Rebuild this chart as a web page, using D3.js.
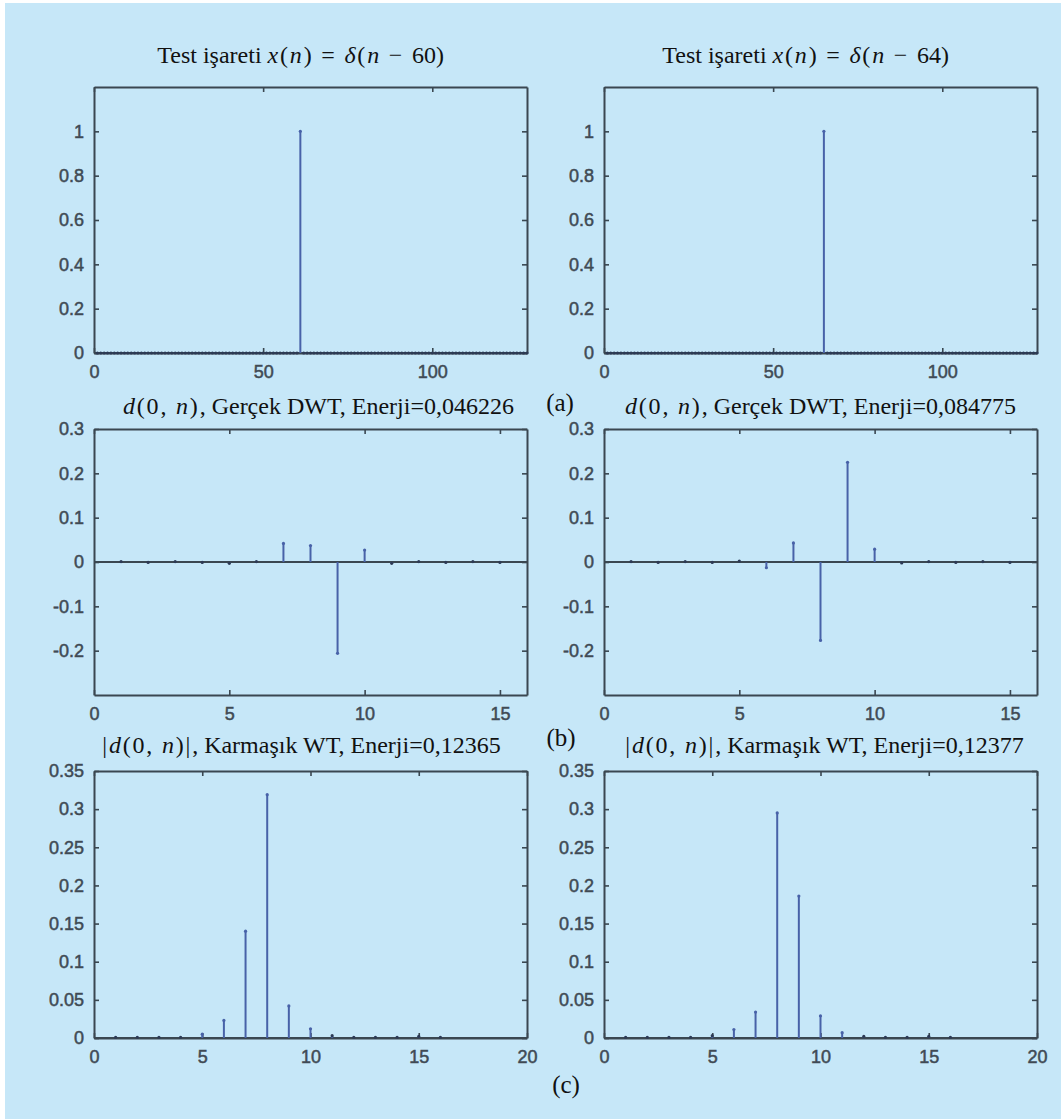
<!DOCTYPE html>
<html>
<head>
<meta charset="utf-8">
<script src="https://cdn.jsdelivr.net/npm/d3@7/dist/d3.min.js"></script>
<style>
  html, body { margin: 0; padding: 0; background: #ffffff; }
  svg { display: block; }
</style>
</head>
<body>
<svg id="fig" width="1061" height="1119"></svg>
<script>
// ---- data -------------------------------------------------------------
// Test signals: unit impulses on 128 samples (MATLAB 1-based indices)
const testSamples = d3.range(1, 129);
const impulseAtLeft = 61;
const impulseAtRight = 65;
const impulseHeight = 1;

// Finest-scale coefficients d(0,n) of the real DWT, n = 1..15
const dwtIndex = d3.range(1, 16);
const dwtLeft  = [0.001, -0.001, 0.001, -0.001, -0.003, 0.001, 0.042, 0.037, -0.206, 0.027, -0.003, 0.001, -0.001, 0.001, -0.001];
const dwtRight = [0.001, -0.001, 0.001, -0.001, 0.002, -0.013, 0.043, -0.177, 0.225, 0.029, -0.002, 0.001, -0.001, 0.001, -0.001];

// Magnitudes |d(0,n)| of the complex wavelet transform, n = 1..16
const cwtIndex = d3.range(1, 17);
const cwtLeft  = [0.001, 0.001, 0.001, 0.001, 0.005, 0.023, 0.140, 0.319, 0.042, 0.012, 0.003, 0.001, 0.001, 0.001, 0.002, 0.001];
const cwtRight = [0.001, 0.001, 0.001, 0.001, 0.003, 0.011, 0.034, 0.295, 0.186, 0.029, 0.007, 0.002, 0.001, 0.001, 0.002, 0.001];

// Titles as runs: "t" = plain text, "m" = upright math, "i" = italic math, "d" = math digits
const titleTestLeft  = [["Test işareti ", "t"], ["x", "i"], ["(", "m"], ["n", "i"], [") = ", "m"], ["δ", "i"], ["(", "m"], ["n", "i"], [" − ", "m"], ["60", "d"], [")", "m"]];
const titleTestRight = [["Test işareti ", "t"], ["x", "i"], ["(", "m"], ["n", "i"], [") = ", "m"], ["δ", "i"], ["(", "m"], ["n", "i"], [" − ", "m"], ["64", "d"], [")", "m"]];
const titleDwtLeft   = [["d", "i"], ["(0, ", "m"], ["n", "i"], [")", "m"], [", Gerçek DWT, Enerji=0,046226", "t"]];
const titleDwtRight  = [["d", "i"], ["(0, ", "m"], ["n", "i"], [")", "m"], [", Gerçek DWT, Enerji=0,084775", "t"]];
const titleCwtLeft   = [["|", "m"], ["d", "i"], ["(0, ", "m"], ["n", "i"], [")|", "m"], [", Karmaşık WT, Enerji=0,12365", "t"]];
const titleCwtRight  = [["|", "m"], ["d", "i"], ["(0, ", "m"], ["n", "i"], [")|", "m"], [", Karmaşık WT, Enerji=0,12377", "t"]];
const panelLabels = ["(a)", "(b)", "(c)"];

// Axis limits and tick values
const testXDomain = [0, 128], testYDomain = [0, 1.2];
const testXTicks = [0, 50, 100], testYTicks = [0, 0.2, 0.4, 0.6, 0.8, 1];
const dwtXDomain = [0, 16], dwtYDomain = [-0.3, 0.3];
const dwtXTicks = [0, 5, 10, 15], dwtYTicks = [-0.2, -0.1, 0, 0.1, 0.2, 0.3];
const cwtXDomain = [0, 20], cwtYDomain = [0, 0.35];
const cwtXTicks = [0, 5, 10, 15, 20], cwtYTicks = [0, 0.05, 0.1, 0.15, 0.2, 0.25, 0.3, 0.35];

// ---- layout & style ----------------------------------------------------
const BG = "#c6e7f8";
const FRAME = "#3a4751";
const TICKTXT = "#404a54";
const STEM = "#4862a8";
const cols = [{ x0: 94, x1: 527 }, { x0: 604, x1: 1037 }];
const rows = [{ y0: 87, y1: 353, titleY: 63 }, { y0: 429, y1: 695, titleY: 414 }, { y0: 771, y1: 1038, titleY: 753 }];

const svg = d3.select("#fig");
svg.append("rect").attr("x", 5).attr("y", 3).attr("width", 1061).attr("height", 1119).attr("fill", BG);

function drawPanel(cfg) {
  const c = cols[cfg.col], r = rows[cfg.row];
  const x = d3.scaleLinear().domain(cfg.xDomain).range([c.x0, c.x1]);
  const y = d3.scaleLinear().domain(cfg.yDomain).range([r.y1, r.y0]);
  const g = svg.append("g");

  const fmt = d => String(+d.toFixed(2));
  const styleAxis = sel => {
    sel.select(".domain").attr("stroke", FRAME).attr("stroke-width", 2);
    sel.selectAll(".tick line").attr("stroke", FRAME).attr("stroke-width", 1.6);
    sel.selectAll(".tick text")
      .attr("fill", TICKTXT)
      .attr("stroke", TICKTXT).attr("stroke-width", 0.5)
      .style("font-family", "'Liberation Sans', Arial, sans-serif")
      .style("font-size", "18px");
  };

  g.append("g").attr("transform", `translate(0,${r.y1})`)
    .call(d3.axisBottom(x).tickValues(cfg.xTicks).tickFormat(fmt).tickSizeInner(-5).tickSizeOuter(0).tickPadding(12))
    .call(styleAxis);
  g.append("g").attr("transform", `translate(0,${r.y0})`)
    .call(d3.axisTop(x).tickValues(cfg.xTicks).tickFormat("").tickSizeInner(-5).tickSizeOuter(0))
    .call(styleAxis);
  g.append("g").attr("transform", `translate(${c.x0},0)`)
    .call(d3.axisLeft(y).tickValues(cfg.yTicks).tickFormat(fmt).tickSizeInner(-5).tickSizeOuter(0).tickPadding(10))
    .call(styleAxis);
  g.append("g").attr("transform", `translate(${c.x1},0)`)
    .call(d3.axisRight(y).tickValues(cfg.yTicks).tickFormat("").tickSizeInner(-5).tickSizeOuter(0))
    .call(styleAxis);

  // stem baseline
  g.append("line")
    .attr("x1", c.x0).attr("x2", c.x1)
    .attr("y1", y(0)).attr("y2", y(0))
    .attr("stroke", FRAME).attr("stroke-width", 2);

  const pts = cfg.n.map((n, i) => ({ n, v: cfg.values[i] }));
  g.append("g").selectAll("line").data(pts).join("line")
    .attr("x1", d => x(d.n)).attr("x2", d => x(d.n))
    .attr("y1", y(0)).attr("y2", d => y(d.v))
    .attr("stroke", STEM).attr("stroke-width", 2);
  g.append("g").selectAll("circle").data(pts).join("circle")
    .attr("cx", d => x(d.n)).attr("cy", d => y(d.v))
    .attr("r", 1.6)
    .attr("fill", d => Math.abs(d.v) < 0.005 ? "#2c3a55" : STEM);

  // title
  const t = svg.append("text")
    .attr("x", (c.x0 + c.x1) / 2 + cfg.titleDx).attr("y", r.titleY)
    .attr("text-anchor", "middle")
    .attr("fill", "#111")
    .style("font-family", "'Liberation Serif', 'Times New Roman', serif")
    .style("font-size", "24px");
  cfg.title.forEach(([s, kind]) => {
    t.append("tspan").text(s)
      .style("font-style", kind === "i" ? "italic" : "normal")
      .style("letter-spacing", (kind === "m" || kind === "i") ? "1.8px" : "0px");
  });
}

const testLeft = testSamples.map(n => (n === impulseAtLeft ? impulseHeight : 0));
const testRight = testSamples.map(n => (n === impulseAtRight ? impulseHeight : 0));

drawPanel({ row: 0, col: 0, xDomain: testXDomain, yDomain: testYDomain, xTicks: testXTicks, yTicks: testYTicks, n: testSamples, values: testLeft, title: titleTestLeft, titleDx: -9 });
drawPanel({ row: 0, col: 1, xDomain: testXDomain, yDomain: testYDomain, xTicks: testXTicks, yTicks: testYTicks, n: testSamples, values: testRight, title: titleTestRight, titleDx: -14 });
drawPanel({ row: 1, col: 0, xDomain: dwtXDomain, yDomain: dwtYDomain, xTicks: dwtXTicks, yTicks: dwtYTicks, n: dwtIndex, values: dwtLeft, title: titleDwtLeft, titleDx: 8 });
drawPanel({ row: 1, col: 1, xDomain: dwtXDomain, yDomain: dwtYDomain, xTicks: dwtXTicks, yTicks: dwtYTicks, n: dwtIndex, values: dwtRight, title: titleDwtRight, titleDx: 0 });
drawPanel({ row: 2, col: 0, xDomain: cwtXDomain, yDomain: cwtYDomain, xTicks: cwtXTicks, yTicks: cwtYTicks, n: cwtIndex, values: cwtLeft, title: titleCwtLeft, titleDx: -9 });
drawPanel({ row: 2, col: 1, xDomain: cwtXDomain, yDomain: cwtYDomain, xTicks: cwtXTicks, yTicks: cwtYTicks, n: cwtIndex, values: cwtRight, title: titleCwtRight, titleDx: 4 });

// panel letters
const letterPos = [{ x: 560, y: 411 }, { x: 561, y: 746 }, { x: 566, y: 1093 }];
svg.selectAll("text.panel-letter").data(panelLabels).join("text")
  .attr("class", "panel-letter")
  .attr("x", (d, i) => letterPos[i].x).attr("y", (d, i) => letterPos[i].y)
  .attr("text-anchor", "middle")
  .attr("fill", "#111")
  .style("font-family", "'Liberation Serif', 'Times New Roman', serif")
  .style("font-size", "25px")
  .text(d => d);
</script>
</body>
</html>
